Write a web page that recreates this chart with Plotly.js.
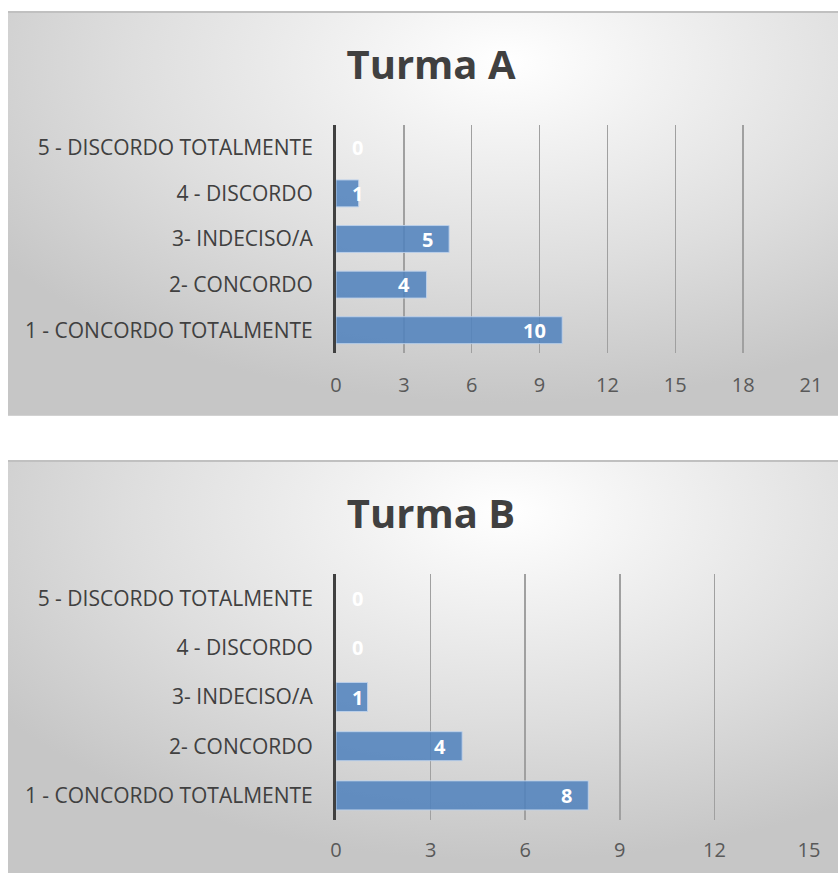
<!DOCTYPE html>
<html>
<head>
<meta charset="utf-8">
<script src="https://cdn.plot.ly/plotly-3.0.1.min.js"></script>
<style>
  html, body { margin: 0; padding: 0; background: #ffffff; width: 838px; height: 873px; overflow: hidden; }
  .panel {
    position: absolute; left: 8px; width: 830px;
    background: radial-gradient(ellipse 75% 85% at 60% 12%, #ffffff 0%, #f1f1f1 25%, #dedede 60%, #c6c6c6 100%);
    border-top: 2px solid #c0c0c0;
    box-sizing: border-box;
  }
  #chartA { top: 11px; height: 405px; border-bottom: 1px solid #d2d2d2; }
  #chartB { top: 460px; height: 413px; }
</style>
</head>
<body>
<div id="chartA" class="panel"></div>
<div id="chartB" class="panel"></div>
<script>
// Data
const categories = ['1 - CONCORDO TOTALMENTE', '2- CONCORDO', '3- INDECISO/A', '4 - DISCORDO', '5 - DISCORDO TOTALMENTE'];
const turmaA = [10, 4, 5, 1, 0];
const turmaB = [8, 4, 1, 0, 0];
const ticksA = [0, 3, 6, 9, 12, 15, 18, 21];
const ticksB = [0, 3, 6, 9, 12, 15];

function drawChart(divId, title, values, ticks, height, margins, tickStandoff) {
  const width = 830;
  const xmax = ticks[ticks.length - 1];
  const plotW = width - margins.l - margins.r;
  const ppu = plotW / xmax;
  const annotations = values.map((v, i) => {
    const inside = v * ppu - 16 >= 30;
    return {
      x: inside ? v : 0, y: categories[i], xref: 'x', yref: 'y',
      text: String(v), showarrow: false,
      xanchor: inside ? 'right' : 'left',
      xshift: inside ? -14 : 14,
      font: { family: 'Open Sans, sans-serif', size: 20, color: '#ffffff', weight: 'bold' }
    };
  });
  const trace = {
    type: 'bar', orientation: 'h',
    x: values, y: categories,
    marker: {
      color: 'rgba(79,129,189,0.86)',
      line: { color: 'rgba(190,210,235,0.9)', width: values.map(v => v > 0 ? 1 : 0) }
    },
    hoverinfo: 'none'
  };
  const layout = {
    width: width, height: height - 2,
    paper_bgcolor: 'rgba(0,0,0,0)', plot_bgcolor: 'rgba(0,0,0,0)',
    margin: margins,
    showlegend: false,
    bargap: 0.41,
    title: {
      text: title, x: 423 / 830, xanchor: 'center', xref: 'container',
      y: 1 - 52 / height, yref: 'container', yanchor: 'middle',
      font: { family: 'Open Sans, sans-serif', size: 40, color: '#404040', weight: 'bold' }
    },
    xaxis: {
      range: [0, xmax], tickmode: 'array', tickvals: ticks, ticktext: ticks.map(String),
      showgrid: true, gridcolor: '#a0a0a0', gridwidth: 1.5,
      zeroline: false, showline: false, ticks: '',
      ticklabelstandoff: tickStandoff,
      tickfont: { family: 'Open Sans, sans-serif', size: 20, color: '#595959' },
      fixedrange: true
    },
    yaxis: {
      type: 'category', categoryorder: 'array', categoryarray: categories,
      showgrid: false, zeroline: false,
      showline: true, linecolor: '#404040', linewidth: 3,
      ticks: '', ticklabelstandoff: 16,
      tickfont: { family: 'Open Sans, sans-serif', size: 21, color: '#404040' },
      fixedrange: true
    },
    annotations: annotations
  };
  Plotly.newPlot(divId, [trace], layout, { displayModeBar: false, staticPlot: true });
}

drawChart('chartA', 'Turma A', turmaA, ticksA, 405, { l: 328, r: 27, t: 112, b: 63 }, 18);
drawChart('chartB', 'Turma B', turmaB, ticksB, 413, { l: 328, r: 29, t: 112, b: 53 }, 16);
</script>
</body>
</html>
